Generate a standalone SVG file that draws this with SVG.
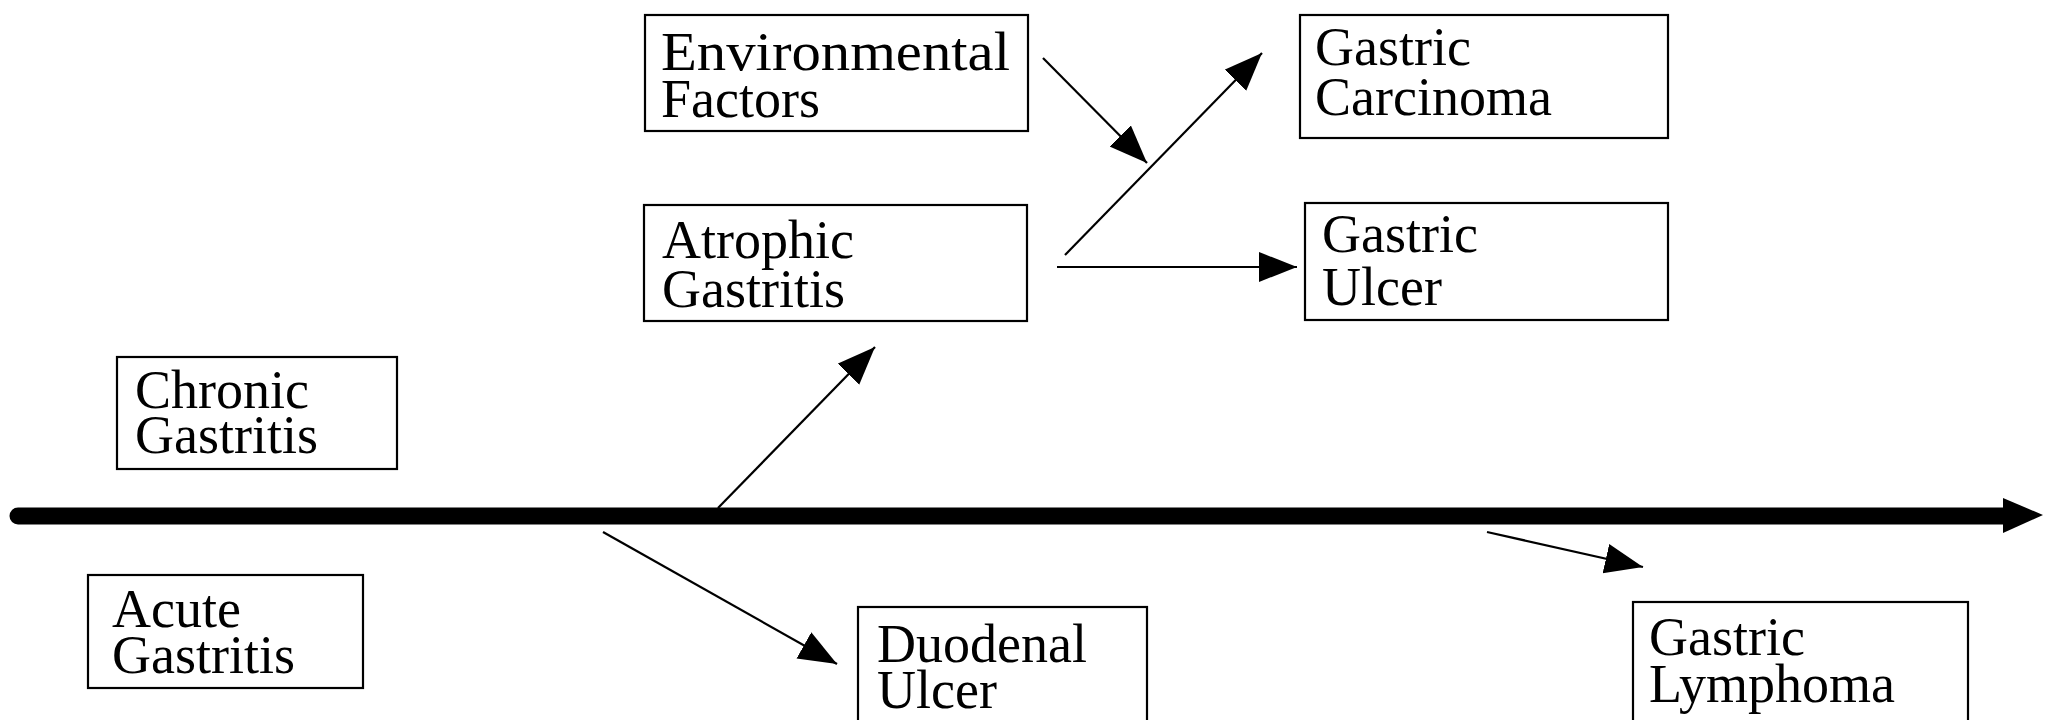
<svg xmlns="http://www.w3.org/2000/svg" width="2045" height="720" viewBox="0 0 2045 720">
  <style>
    .box { fill: #ffffff; stroke: #000000; stroke-width: 2.2; }
    .lbl { font-family: "Liberation Serif", "Times New Roman", serif; font-size: 54px; fill: #000000; }
    .conn { stroke: #000000; stroke-width: 2.2; fill: none; marker-end: url(#head); }
  </style>
  <defs>
    <marker id="head" markerUnits="userSpaceOnUse" markerWidth="40" markerHeight="32" refX="38" refY="15" orient="auto">
      <path d="M0,0 L38,15 L0,30 Z" fill="#000000"/>
    </marker>
  </defs>
  <rect width="2045" height="720" fill="#ffffff"/>

  <g id="connectors">
    <line x1="18" y1="516" x2="2004" y2="516" stroke="#000000" stroke-width="17" stroke-linecap="round"/>
    <polygon points="2003,498 2043,515 2003,533" fill="#000000"/>
    <line class="conn" x1="718" y1="508" x2="875" y2="347"/>
    <line class="conn" x1="603" y1="532" x2="837" y2="664"/>
    <line class="conn" x1="1487" y1="532" x2="1643" y2="567"/>
    <line class="conn" x1="1043" y1="58" x2="1147" y2="163"/>
    <line class="conn" x1="1065" y1="255" x2="1262" y2="53"/>
    <line class="conn" x1="1057" y1="267" x2="1297" y2="267"/>
  </g>

  <g id="environmental-factors">
    <rect class="box" x="645" y="15" width="383" height="116"/>
    <text class="lbl" x="661" y="70" textLength="349" lengthAdjust="spacingAndGlyphs">Environmental</text>
    <text class="lbl" x="661" y="117">Factors</text>
  </g>
  <g id="atrophic-gastritis">
    <rect class="box" x="644" y="205" width="383" height="116"/>
    <text class="lbl" x="662" y="258">Atrophic</text>
    <text class="lbl" x="662" y="307">Gastritis</text>
  </g>
  <g id="gastric-carcinoma">
    <rect class="box" x="1300" y="15" width="368" height="123"/>
    <text class="lbl" x="1315" y="65">Gastric</text>
    <text class="lbl" x="1315" y="115">Carcinoma</text>
  </g>
  <g id="gastric-ulcer">
    <rect class="box" x="1305" y="203" width="363" height="117"/>
    <text class="lbl" x="1322" y="252">Gastric</text>
    <text class="lbl" x="1322" y="305">Ulcer</text>
  </g>
  <g id="chronic-gastritis">
    <rect class="box" x="117" y="357" width="280" height="112"/>
    <text class="lbl" x="135" y="408">Chronic</text>
    <text class="lbl" x="135" y="453">Gastritis</text>
  </g>
  <g id="acute-gastritis">
    <rect class="box" x="88" y="575" width="275" height="113"/>
    <text class="lbl" x="112" y="627">Acute</text>
    <text class="lbl" x="112" y="673">Gastritis</text>
  </g>
  <g id="duodenal-ulcer">
    <rect class="box" x="858" y="607" width="289" height="125"/>
    <text class="lbl" x="877" y="662">Duodenal</text>
    <text class="lbl" x="877" y="708">Ulcer</text>
  </g>
  <g id="gastric-lymphoma">
    <rect class="box" x="1633" y="602" width="335" height="130"/>
    <text class="lbl" x="1649" y="655">Gastric</text>
    <text class="lbl" x="1649" y="702">Lymphoma</text>
  </g>
</svg>
